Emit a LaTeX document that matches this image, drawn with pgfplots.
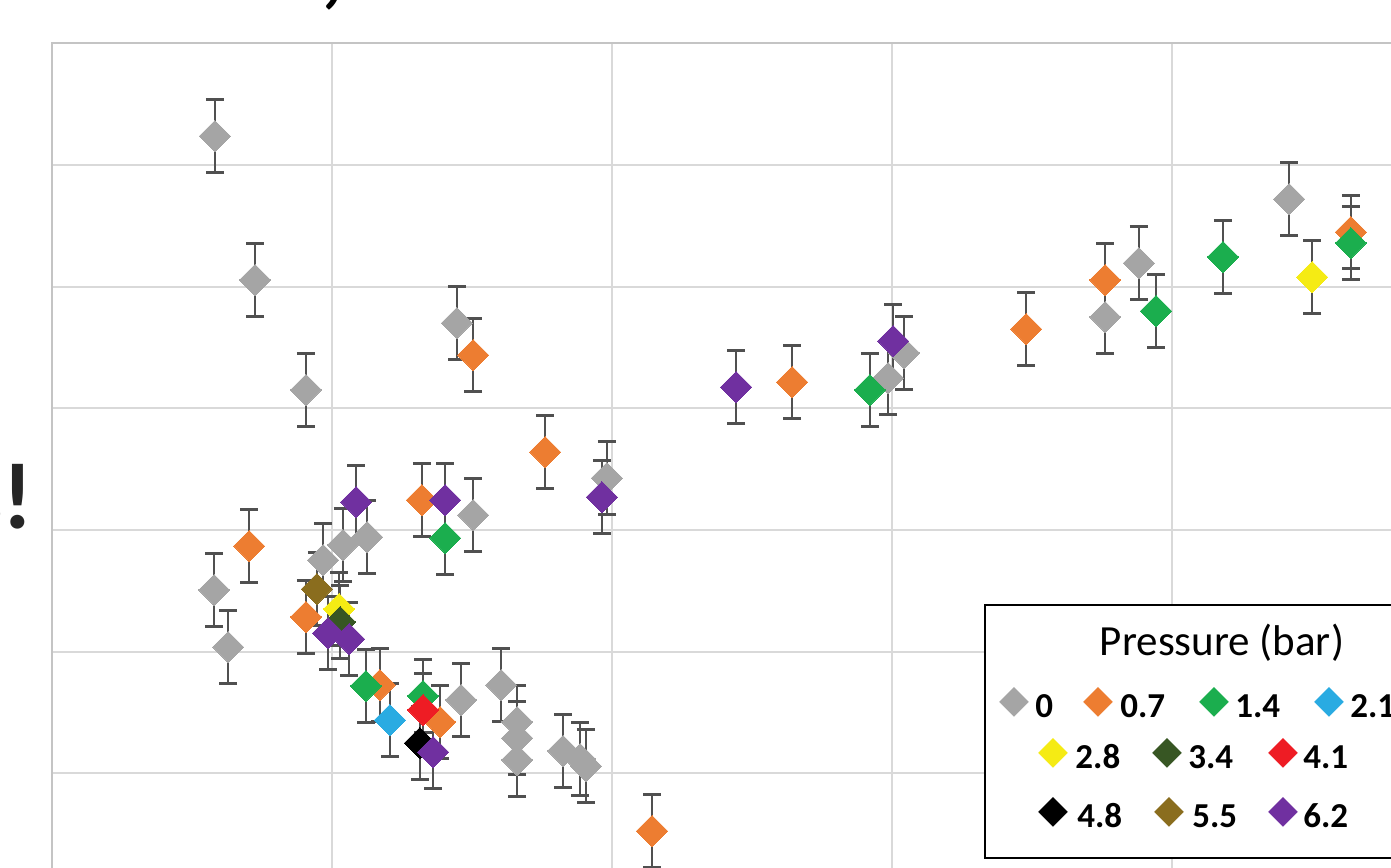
\documentclass[border=0pt]{standalone}
\usepackage{pgfplots}
\pgfplotsset{compat=1.18}
\usepackage{fontspec}
\setmainfont{Carlito}
\newfontfamily\dejavu{DejaVu Sans}
\definecolor{cgray}{HTML}{A5A5A5}
\definecolor{corange}{HTML}{ED7D31}
\definecolor{cgreen}{HTML}{1BAE4E}
\definecolor{cblue}{HTML}{29ABE2}
\definecolor{cyellow}{HTML}{F5EB14}
\definecolor{cdkgreen}{HTML}{375623}
\definecolor{cred}{HTML}{EE1C24}
\definecolor{cblack}{HTML}{000000}
\definecolor{cbrown}{HTML}{8A6D1E}
\definecolor{cpurple}{HTML}{7030A0}
\definecolor{errc}{HTML}{505050}
\definecolor{gridc}{HTML}{D9D9D9}
\definecolor{axc}{HTML}{C4C4C4}
\newcommand\pxc[2]{(axis cs:{(#1-52)/280},{(895-#2)/121.6667})}
\newcommand\lm[3]{\node[inner sep=0pt, text=#3, font=\dejavu\fontsize{19.5}{21}\selectfont] at \pxc{#1}{#2+4} {◆};}
\newcommand\lt[3]{\node[anchor=west, inner sep=0pt, font=\bfseries\fontsize{17.5}{20}\selectfont] at \pxc{#1}{#2} {#3};}
\pgfplotsset{
  ser/.style={only marks, mark=square*, mark size=5.5pt,
    mark options={rotate=45, draw=#1, fill=#1, line width=0pt},
    error bars/.cd, y dir=both, y fixed=0.3,
    error bar style={line width=1.25pt, color=errc},
    error mark options={rotate=90, mark size=4.5pt, line width=1.25pt, color=errc}},
}
\begin{document}
\begin{tikzpicture}
\begin{axis}[
  at={(0pt,0pt)}, anchor=south west,
  scale only axis, width=700pt, height=425.8333pt,
  xmin=0, xmax=5, ymin=0, ymax=7,
  xtick={0,1,2,3,4,5}, ytick={0,1,2,3,4,5,6,7},
  xticklabels={}, yticklabels={},
  major tick length=0pt,
  grid=major, major grid style={color=gridc, line width=1pt},
  axis line style={color=axc, line width=1pt},
  clip=false,
]
% 0 bar
\addplot[ser=cgray] coordinates {
(0.582,6.238) (0.725,5.055) (0.907,4.151) (1.446,4.701) (0.579,2.507) (0.629,2.038)
(0.968,2.753) (1.039,2.877) (1.125,2.942) (1.504,3.123) (1.982,3.427) (1.461,1.603)
(1.604,1.726) (1.661,1.422) (1.661,1.290) (1.661,1.110) (1.825,1.184) (1.886,1.118)
(1.907,1.060) (2.986,4.249) (3.043,4.455) (3.761,4.751) (3.882,5.194) (4.418,5.720)};
% 0.7 bar
\addplot[ser=corange] coordinates {
(0.704,2.868) (0.907,2.285) (1.321,3.246) (1.504,4.438) (1.761,3.641) (1.171,1.726)
(1.386,1.422) (2.143,0.526) (2.643,4.216) (3.479,4.652) (3.761,5.055) (4.639,5.449)};
% 1.4 bar
\addplot[ser=cgreen] coordinates {
(1.404,2.934) (1.121,1.718) (1.325,1.636) (2.921,4.151) (3.943,4.800) (4.182,5.244) (4.639,5.359)};
% 2.1 bar
\addplot[ser=cblue] coordinates {(1.207,1.438)};
% 2.8 bar
\addplot[ser=cyellow] coordinates {(1.025,2.351) (4.500,5.079)};
% 3.4 bar
\addplot[ser=cdkgreen] coordinates {(1.029,2.244)};
% 4.1 bar
\addplot[ser=cred] coordinates {(1.325,1.521)};
% 4.8 bar
\addplot[ser=cblack] coordinates {(1.314,1.249)};
% 5.5 bar
\addplot[ser=cbrown] coordinates {(0.946,2.515)};
% 6.2 bar
\addplot[ser=cpurple] coordinates {
(1.086,3.230) (1.404,3.246) (1.964,3.271) (0.986,2.153) (1.061,2.104) (1.361,1.175)
(2.443,4.175) (3.004,4.553)};

% legend
\draw[black, line width=1pt, fill=white] \pxc{985}{605} rectangle \pxc{1425}{858};
\node[anchor=base, inner sep=0pt, font=\fontsize{21.5}{24}\selectfont] at \pxc{1222}{655} {Pressure (bar)};
\lm{1014}{706}{cgray} \lm{1099}{706}{corange} \lm{1215}{706}{cgreen} \lm{1329}{706}{cblue}
\lm{1053}{757}{cyellow} \lm{1168}{757}{cdkgreen} \lm{1284}{757}{cred}
\lm{1054}{816}{cblack} \lm{1169}{816}{cbrown} \lm{1284}{816}{cpurple}
\lt{1035}{706}{0} \lt{1120}{706}{0.7} \lt{1235}{706}{1.4} \lt{1350}{706}{2.1}
\lt{1075}{757}{2.8} \lt{1188}{757}{3.4} \lt{1303}{757}{4.1}
\lt{1077}{816}{4.8} \lt{1192}{816}{5.5} \lt{1303}{816}{6.2}
% fragments of surrounding text
\node[anchor=base east, inner sep=0pt, font=\bfseries\fontsize{47}{50}\selectfont, text=black!85] at \pxc{34}{528} {s!};
\node[anchor=base, inner sep=0pt, font=\bfseries\fontsize{47}{50}\selectfont] at \pxc{333}{-3} {,};
\end{axis}
\pgfresetboundingbox
\path[use as bounding box] (-26pt,14pt) rectangle (669.5pt,447.5pt);
\end{tikzpicture}
\end{document}
